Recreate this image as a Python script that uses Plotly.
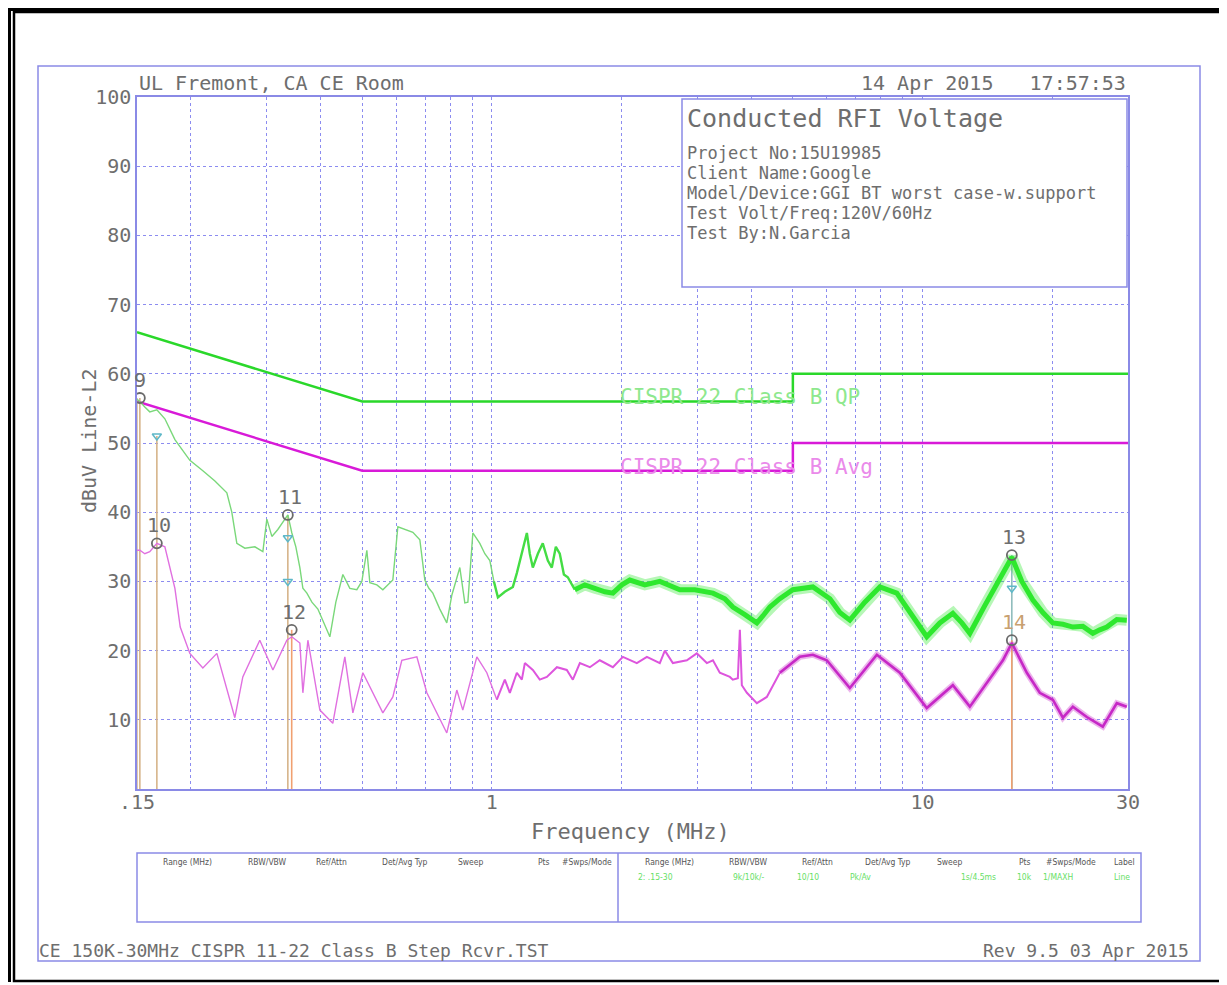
import numpy as np
import plotly.graph_objects as go

# ---------------- data ----------------
green_freq = [0.150, 0.1523, 0.1564, 0.1606, 0.1668, 0.1741, 0.1837, 0.1990, 0.2133, 0.2275,
              0.2425, 0.2490, 0.2558, 0.2670, 0.2817, 0.2940, 0.3003, 0.3085, 0.3185, 0.3289,
              0.3360, 0.3433, 0.3507, 0.3583, 0.3641, 0.3720, 0.3821, 0.3945, 0.4074, 0.4206,
              0.4343, 0.4509, 0.4681, 0.4859, 0.4991, 0.5126, 0.5209, 0.5408, 0.5584, 0.5735,
              0.5890, 0.6050, 0.6281, 0.6556, 0.6805, 0.6989, 0.7141, 0.7295, 0.7572, 0.7860,
              0.8074, 0.8249, 0.8427, 0.8656, 0.8797, 0.9034, 0.9378, 0.9632, 0.9894, 1.011,
              1.033, 1.072, 1.119, 1.143, 1.174, 1.206, 1.225, 1.245, 1.279, 1.313,
              1.349, 1.378, 1.408, 1.438, 1.470, 1.501, 1.558, 1.644, 1.734, 1.830,
              1.910, 2.004, 2.091, 2.266, 2.455, 2.733, 2.960, 3.261, 3.475, 3.627,
              3.868, 4.124, 4.258, 4.421, 4.663, 5.000, 5.564, 6.094, 6.427, 6.780,
              7.345, 7.961, 8.716, 9.445, 10.23, 10.97, 11.76, 12.34, 12.88, 13.95,
              15.12, 16.12, 17.01, 18.04, 19.03, 20.07, 21.18, 22.34, 23.57, 24.86,
              25.80, 26.79, 28.26, 29.81]
green_peak = [56.3, 56.0, 55.2, 54.5, 54.8, 53.5, 50.5, 47.5, 46.0, 44.5,
              42.8, 40.0, 35.5, 34.8, 35.0, 34.3, 39.0, 36.5, 37.5, 38.8,
              39.6, 37.0, 35.0, 32.0, 29.0, 28.3, 27.0, 26.0, 24.0, 22.0,
              27.0, 31.0, 29.0, 28.8, 30.0, 34.5, 29.8, 29.5, 28.8, 29.5,
              30.2, 37.9, 37.5, 37.1, 36.0, 30.2, 29.0, 28.3, 26.0, 24.0,
              28.0, 30.0, 32.0, 26.9, 27.0, 37.0, 35.5, 34.0, 33.0, 30.0,
              27.7, 28.5, 29.2, 31.2, 34.0, 37.0, 34.0, 32.0, 34.0, 35.5,
              33.0, 32.0, 35.0, 34.0, 31.0, 30.6, 28.8, 29.5, 29.0, 28.5,
              28.3, 29.5, 30.2, 29.5, 30.0, 28.8, 28.8, 28.3, 27.5, 26.3,
              25.2, 24.0, 25.0, 26.3, 27.5, 28.8, 29.2, 27.5, 25.5, 24.4,
              27.0, 29.2, 28.3, 25.0, 22.0, 24.0, 25.4, 24.0, 22.5, 26.5,
              30.5, 33.5, 30.0, 27.3, 25.5, 24.0, 23.8, 23.4, 23.5, 22.5,
              23.0, 23.4, 24.5, 24.4]

avg_freq = [0.150, 0.1523, 0.1564, 0.1606, 0.1668, 0.1741, 0.1837, 0.1890, 0.1990, 0.2133,
            0.2299, 0.2531, 0.2641, 0.2892, 0.3102, 0.3342, 0.3433, 0.3583, 0.3641, 0.3740,
            0.3988, 0.4273, 0.4557, 0.4757, 0.5018, 0.5294, 0.5584, 0.5890, 0.6180, 0.6697,
            0.7065, 0.7860, 0.8292, 0.8562, 0.9230, 0.9736, 1.027, 1.072, 1.101, 1.143,
            1.174, 1.193, 1.245, 1.292, 1.342, 1.416, 1.493, 1.542, 1.601, 1.689,
            1.781, 1.910, 2.015, 2.171, 2.291, 2.455, 2.522, 2.632, 2.837, 2.992,
            3.157, 3.261, 3.383, 3.570, 3.627, 3.726, 3.766, 3.806,
            3.910, 4.124, 4.350, 4.663, 5.190, 5.564, 5.995, 6.780, 7.834, 8.858,
            10.23, 11.76, 12.88, 15.37, 16.12, 17.47, 18.72, 20.07, 21.18, 22.34,
            24.07, 26.22, 28.26, 29.81]
avg_level = [34.5, 34.5, 34.0, 34.3, 35.5, 35.0, 29.0, 23.4, 19.6, 17.5,
             19.6, 10.3, 16.2, 21.5, 17.2, 21.5, 22.0, 21.1, 13.9, 21.5,
             11.4, 9.5, 19.1, 11.0, 16.8, 13.9, 11.0, 13.3, 18.6, 19.1,
             13.9, 8.1, 14.3, 11.4, 19.1, 16.8, 12.9, 15.8, 13.9, 16.8,
             15.8, 18.2, 17.2, 15.8, 16.2, 17.6, 17.2, 15.8, 18.2, 17.6,
             18.6, 17.6, 19.1, 18.2, 19.1, 18.2, 20.0, 18.2, 18.6, 19.6,
             18.2, 18.6, 16.8, 16.2, 15.8, 16.0, 23.0, 15.0,
             13.9, 12.4, 13.3, 16.8, 19.1, 19.4, 18.6, 14.6, 19.4, 16.8,
             11.7, 15.0, 11.9, 18.6, 21.1, 16.8, 13.9, 12.9, 10.3, 11.9,
             10.4, 9.0, 12.4, 11.9]

limit_freq = [0.15, 0.5, 5.0, 5.0, 30.0]
limit_qp = [66, 56, 56, 60, 60]
limit_avg = [56, 46, 46, 50, 50]

marker_labels = ["9", "10", "11", "12", "13", "14"]
marker_freq = [0.1523, 0.1668, 0.336, 0.343, 16.12, 16.12]
marker_level = [56.5, 35.5, 39.6, 23.0, 33.8, 21.5]
marker_stem_top = [56.5, 51.0, 39.6, 23.0, 33.8, 21.5]

qp_meas_freq = [0.1668, 0.336, 0.336, 16.12]
qp_meas_level = [51.0, 36.3, 30.0, 29.0]

x_tickvals = [0.15, 0.2, 0.3, 0.4, 0.5, 0.6, 0.7, 0.8, 0.9, 1, 2, 3, 4, 5, 6, 7, 8, 9, 10, 20, 30]
x_ticktext = [".15", "", "", "", "", "", "", "", "", "1", "", "", "", "", "", "", "", "", "10", "", "30"]
y_tickvals = [10, 20, 30, 40, 50, 60, 70, 80, 90, 100]

info_lines = ["Project No:15U19985", "Client Name:Google",
              "Model/Device:GGI BT worst case-w.support",
              "Test Volt/Freq:120V/60Hz", "Test By:N.Garcia"]
table_headers = ["Range (MHz)", "RBW/VBW", "Ref/Attn", "Det/Avg Typ", "Sweep", "Pts", "#Swps/Mode"]
table_row = ["2: .15-30", "9k/10k/-", "10/10", "Pk/Av", "1s/4.5ms", "10k", "1/MAXH", "Line"]

# ---------------- figure ----------------
OFF = 8                     # page body margin
W, H = 1227 - OFF, 985 - OFF
FONT = "DejaVu Sans Mono, Liberation Mono, monospace"
TXT = "#6e6e6e"
BLUE = "#8a8ae6"

def px(x):
    return (x - OFF) / W

def py(y):
    return 1 - (y - OFF) / H

fig = go.Figure()

gf = np.array(green_freq); gv = np.array(green_peak)
af = np.array(avg_freq); av = np.array(avg_level)

# limit lines
fig.add_trace(go.Scatter(x=limit_freq, y=limit_qp, mode="lines",
                         line=dict(color="#2ad82a", width=2.5), hoverinfo="skip"))
fig.add_trace(go.Scatter(x=limit_freq, y=limit_avg, mode="lines",
                         line=dict(color="#d81ad8", width=2.5), hoverinfo="skip"))

# marker stems
stem_cols = ["#d6b48a", "#d6b48a", "#d6b48a", "#f0a070", "#8fbcbc", "#f0a070"]
for f, top, c in zip(marker_freq, marker_stem_top, stem_cols):
    fig.add_trace(go.Scatter(x=[f, f], y=[0, top], mode="lines",
                             line=dict(color=c, width=1.6), hoverinfo="skip"))
fig.add_trace(go.Scatter(x=[marker_freq[0] * 0.985] * 2, y=[0, marker_level[0]], mode="lines",
                         line=dict(color="#d6b48a", width=1.4), hoverinfo="skip"))

# average trace
m_lo = af <= 1.03
m_mid = (af >= 1.0) & (af <= 4.7)
m_hi = af >= 4.6
fig.add_trace(go.Scatter(x=af[m_lo], y=av[m_lo], mode="lines",
                         line=dict(color="#e070e0", width=1.4), hoverinfo="skip"))
fig.add_trace(go.Scatter(x=af[m_mid], y=av[m_mid], mode="lines",
                         line=dict(color="#dd55dd", width=2.0), hoverinfo="skip"))
fig.add_trace(go.Scatter(x=af[m_hi], y=av[m_hi], mode="lines",
                         line=dict(color="rgba(200,40,200,0.35)", width=6), hoverinfo="skip"))
fig.add_trace(go.Scatter(x=af[m_hi], y=av[m_hi], mode="lines",
                         line=dict(color="#c628c6", width=2.6), hoverinfo="skip"))

# peak trace
g_lo = gf <= 1.03
g_mid = (gf >= 1.0) & (gf <= 1.6)
g_hi = gf >= 1.55
fig.add_trace(go.Scatter(x=gf[g_lo], y=gv[g_lo], mode="lines",
                         line=dict(color="#7ad87a", width=1.4), hoverinfo="skip"))
fig.add_trace(go.Scatter(x=gf[g_mid], y=gv[g_mid], mode="lines",
                         line=dict(color="#44dd44", width=2.4), hoverinfo="skip"))
fig.add_trace(go.Scatter(x=gf[g_hi], y=gv[g_hi], mode="lines",
                         line=dict(color="rgba(46,232,46,0.35)", width=11), hoverinfo="skip"))
fig.add_trace(go.Scatter(x=gf[g_hi], y=gv[g_hi], mode="lines",
                         line=dict(color="#2ee82e", width=5), hoverinfo="skip"))

# QP measured symbols
fig.add_trace(go.Scatter(x=qp_meas_freq, y=qp_meas_level, mode="markers",
                         marker=dict(symbol="triangle-down-open", size=8, color="#5fb8c8",
                                     line=dict(width=1.5)), hoverinfo="skip"))

# marker circles
fig.add_trace(go.Scatter(x=marker_freq, y=marker_level, mode="markers",
                         marker=dict(symbol="circle-open", size=10, color="#6a6a6a",
                                     line=dict(width=1.8)), hoverinfo="skip"))

annotations = []
for lab, f, lv in zip(marker_labels, marker_freq, marker_level):
    annotations.append(dict(x=np.log10(f), y=lv, xref="x", yref="y", text=lab,
                            xanchor="center", yanchor="middle",
                            showarrow=False, yshift=18, xshift=2 if lab != "9" else 0,
                            font=dict(family=FONT, size=20,
                                      color="#c8a070" if lab == "14" else TXT)))

# limit labels
annotations.append(dict(x=np.log10(1.96), y=56.6, xref="x", yref="y", xanchor="left",
                        yanchor="middle", text="CISPR 22 Class B QP", showarrow=False,
                        font=dict(family=FONT, size=21, color="#8ee88e")))
annotations.append(dict(x=np.log10(1.96), y=46.5, xref="x", yref="y", xanchor="left",
                        yanchor="middle", text="CISPR 22 Class B Avg", showarrow=False,
                        font=dict(family=FONT, size=21, color="#ea8aea")))

# header / footer texts
annotations += [
    dict(x=px(137), y=py(83), xref="paper", yref="paper", xanchor="left", yanchor="middle",
         text="UL Fremont, CA CE Room", showarrow=False, font=dict(family=FONT, size=20, color=TXT)),
    dict(x=px(1128), y=py(83), xref="paper", yref="paper", xanchor="right", yanchor="middle",
         text="14 Apr 2015   17:57:53", showarrow=False, font=dict(family=FONT, size=20, color=TXT)),
    dict(x=px(685), y=py(119), xref="paper", yref="paper", xanchor="left", yanchor="middle",
         text="Conducted RFI Voltage", showarrow=False, font=dict(family=FONT, size=25, color=TXT)),
    dict(x=px(630), y=py(831), xref="paper", yref="paper", xanchor="center", yanchor="middle",
         text="Frequency (MHz)", showarrow=False, font=dict(family=FONT, size=22, color=TXT)),
    dict(x=px(89), y=py(441), xref="paper", yref="paper", xanchor="center", yanchor="middle",
         text="dBuV Line-L2", textangle=-90, showarrow=False, font=dict(family=FONT, size=20, color=TXT)),
    dict(x=px(37), y=py(950), xref="paper", yref="paper", xanchor="left", yanchor="middle",
         text="CE 150K-30MHz CISPR 11-22 Class B Step Rcvr.TST", showarrow=False,
         font=dict(family=FONT, size=18, color=TXT)),
    dict(x=px(1191), y=py(950), xref="paper", yref="paper", xanchor="right", yanchor="middle",
         text="Rev 9.5 03 Apr 2015", showarrow=False, font=dict(family=FONT, size=18, color=TXT)),
]
for i, line in enumerate(info_lines):
    annotations.append(dict(x=px(685), y=py(153 + 20 * i), xref="paper", yref="paper",
                            xanchor="left", yanchor="middle", text=line, showarrow=False,
                            font=dict(family=FONT, size=17, color=TXT)))

# table
SMALL = "DejaVu Sans Condensed, Liberation Sans Narrow, sans-serif"
left_hdr_x = [187, 267, 331, 405, 471, 544, 587]
right_hdr_x = [669, 748, 817, 888, 950, 1025, 1071, 1124]
for t, x in zip(table_headers, left_hdr_x):
    annotations.append(dict(x=px(x), y=py(862), xref="paper", yref="paper", text=t,
                            xanchor="center", yanchor="middle",
                            showarrow=False, font=dict(family=SMALL, size=8.5, color="#555")))
for t, x in zip(table_headers + ["Label"], right_hdr_x):
    annotations.append(dict(x=px(x), y=py(862), xref="paper", yref="paper", text=t,
                            xanchor="center", yanchor="middle",
                            showarrow=False, font=dict(family=SMALL, size=8.5, color="#555")))
for t, x in zip(table_row, [655, 749, 808, 860, 978, 1024, 1058, 1122]):
    annotations.append(dict(x=px(x), y=py(877), xref="paper", yref="paper", text=t,
                            xanchor="center", yanchor="middle",
                            showarrow=False, font=dict(family=SMALL, size=8.5, color="#66e066")))

shapes = [
    # black outer frame
    dict(type="rect", xref="paper", yref="paper", x0=px(8), x1=px(11), y0=py(982), y1=py(8),
         fillcolor="black", line=dict(width=0), layer="above"),
    dict(type="rect", xref="paper", yref="paper", x0=px(8), x1=px(1227), y0=py(11), y1=py(8),
         fillcolor="black", line=dict(width=0), layer="above"),
    dict(type="rect", xref="paper", yref="paper", x0=px(14), x1=px(1223), y0=py(981), y1=py(12),
         line=dict(color="black", width=2.5)),
    # blue frame
    dict(type="rect", xref="paper", yref="paper", x0=px(38), x1=px(1200), y0=py(961), y1=py(66),
         line=dict(color=BLUE, width=1.5)),
    # info box
    dict(type="rect", xref="paper", yref="paper", x0=px(682), x1=px(1127), y0=py(287), y1=py(99),
         fillcolor="white", line=dict(color=BLUE, width=1.5), layer="above"),
    # table box
    dict(type="rect", xref="paper", yref="paper", x0=px(137), x1=px(1141), y0=py(922), y1=py(853),
         line=dict(color=BLUE, width=1.5)),
    dict(type="line", xref="paper", yref="paper", x0=px(618), x1=px(618), y0=py(922), y1=py(853),
         line=dict(color=BLUE, width=1.5)),
]

fig.update_layout(
    template="none",
    width=W, height=H, autosize=False,
    margin=dict(l=0, r=0, t=0, b=0, pad=0, autoexpand=False),
    paper_bgcolor="white", plot_bgcolor="white",
    showlegend=False,
    shapes=shapes,
    annotations=annotations,
    xaxis=dict(type="log", domain=[px(137), px(1128)], automargin=False,
               range=[np.log10(0.15), np.log10(30)],
               tickvals=x_tickvals, ticktext=x_ticktext, ticks="",
               ticklabelstandoff=-6,
               tickfont=dict(family=FONT, size=20, color=TXT),
               showgrid=True, gridcolor="#8c8cf0", griddash="dot", gridwidth=1.2,
               showline=True, linecolor=BLUE, linewidth=1.5, mirror=True,
               zeroline=False, fixedrange=True),
    yaxis=dict(domain=[py(789), py(97)], range=[0, 100], automargin=False,
               tickvals=y_tickvals, ticks="",
               tickfont=dict(family=FONT, size=20, color=TXT),
               showgrid=True, gridcolor="#8c8cf0", griddash="dot", gridwidth=1.2,
               showline=True, linecolor=BLUE, linewidth=1.5, mirror=True,
               zeroline=False, fixedrange=True),
)

fig.write_html("out.html")
